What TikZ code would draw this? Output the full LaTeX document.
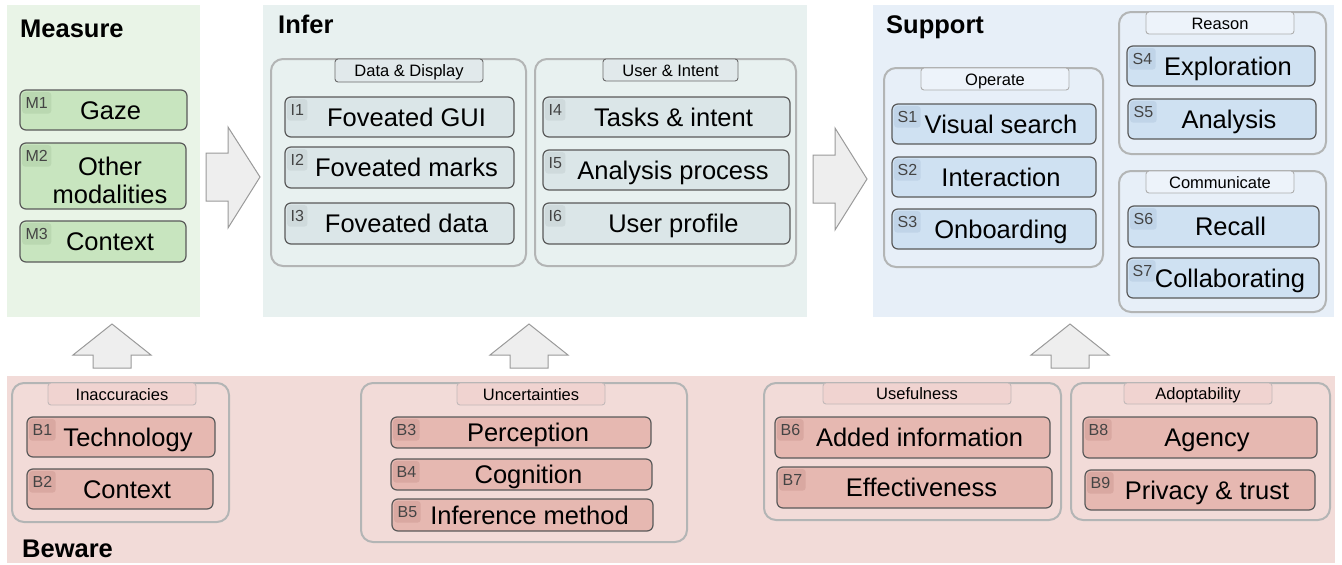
\documentclass[tikz,border=0pt]{standalone}
\usepackage{fontspec}
\setmainfont{Liberation Sans}
\definecolor{gbg}{HTML}{E9F4E7}
\definecolor{ibg}{HTML}{E8F1F0}
\definecolor{sbg}{HTML}{E7EFF8}
\definecolor{bbg}{HTML}{F2DBD8}
\definecolor{gitem}{HTML}{C8E5BF}
\definecolor{iitem}{HTML}{DBE6E8}
\definecolor{sitem}{HTML}{CFE1F2}
\definecolor{bitem}{HTML}{E6B8B1}
\definecolor{gbadge}{HTML}{BAD8B1}
\definecolor{ibadge}{HTML}{CFDADC}
\definecolor{sbadge}{HTML}{C0D4E8}
\definecolor{bbadge}{HTML}{D9A8A1}
\definecolor{itemline}{HTML}{5A5A5A}
\definecolor{grpline}{HTML}{B3B5B5}
\definecolor{arrfill}{HTML}{EEEEEE}
\definecolor{arrline}{HTML}{9A9A9A}
\definecolor{badgetext}{HTML}{444444}
\definecolor{itab}{HTML}{E1E9EB}
\definecolor{stab}{HTML}{EDF3FA}
\definecolor{btab}{HTML}{F0D3D0}
\definecolor{itabline}{HTML}{6A6A6A}
\definecolor{stabline}{HTML}{AEAEAE}
\definecolor{btabline}{HTML}{C2B9B9}
\newcommand\fItem{\fontsize{25.5}{29}\selectfont}
\newcommand\fTitle{\fontsize{25.5}{30}\selectfont\bfseries}
\newcommand\fTab{\fontsize{16.5}{20}\selectfont}
\newcommand\fBadge{\fontsize{16}{19}\selectfont}
% #1 style, #2 name, #3 x1, #4 y1, #5 x2, #6 y2, #7 text
\newcommand\Rect[7]{%
  \pgfmathsetmacro\ww{#5-#3}\pgfmathsetmacro\hh{#6-#4}%
  \pgfmathsetmacro\cx{(#3+#5)/2}\pgfmathsetmacro\cy{(#4+#6)/2}%
  \node[#1, minimum width=\ww pt, minimum height=\hh pt] (#2) at (\cx,\cy) {#7};}
% #1 name, #2-#5 box, #6 colour prefix, #7 badge, #8 text
\newcommand\Item[8]{%
  \Rect{itm,fill=#6item}{#1}{#2}{#3}{#4}{#5}{}%
  \node[badge,fill=#6badge] (#1b) at ([shift={(2.5pt,-2.5pt)}]#1.north west) {#7};
  \node[itxt] (#1t) at ([xshift=7pt]#1.center) {#8};}
\begin{document}
\begin{tikzpicture}[x=1pt,y=-1pt,
  panel/.style={draw=none, inner sep=0, outer sep=0},
  grp/.style={draw=grpline, line width=2pt, rounded corners=12pt, inner sep=0},
  tabbox/.style={rounded corners=3pt, line width=0.9pt, inner sep=0, font=\fTab, text height=12pt, text depth=0pt},
  itm/.style={draw=itemline, line width=1.2pt, rounded corners=6pt, inner sep=0},
  badge/.style={rounded corners=3pt, inner xsep=3.5pt, inner ysep=0pt, minimum height=21.5pt, text=badgetext, font=\fBadge, anchor=north west, text height=11.3pt, text depth=0pt},
  itxt/.style={font=\fItem, inner sep=0, text height=18.3pt, text depth=0pt},
  title/.style={font=\fTitle, anchor=base west, inner sep=0},
  blockarrow/.style={fill=arrfill, draw=arrline, line width=1pt, line join=miter}]
\useasboundingbox (0,0) rectangle (1342,565);
% panels
\Rect{panel,fill=gbg}{measure}{7}{5}{200}{317}{}
\Rect{panel,fill=ibg}{infer}{263}{5}{807}{317}{}
\Rect{panel,fill=sbg}{support}{873}{5}{1334}{317}{}
\Rect{panel,fill=bbg}{beware}{7}{376}{1335}{563}{}
% titles
\node[title] (tmeasure) at (20,37) {Measure};
\node[title] (tinfer) at (278,33) {Infer};
\node[title] (tsupport) at (886,33) {Support};
\node[title] (tbeware) at (22,557) {Beware};
% block arrows
\draw[blockarrow] (206,153) -- (228,153) -- (228,127) -- (260,177) -- (228,228) -- (228,201) -- (206,201) -- cycle;
\draw[blockarrow] (813,155) -- (835,155) -- (835,128) -- (867,179) -- (835,230) -- (835,203) -- (813,203) -- cycle;
\draw[blockarrow] (93,368) -- (93,355) -- (73,355) -- (112,324) -- (151,355) -- (131,355) -- (131,368) -- cycle;
\draw[blockarrow] (510,368) -- (510,355) -- (490,355) -- (529,324) -- (568,355) -- (548,355) -- (548,368) -- cycle;
\draw[blockarrow] (1051,368) -- (1051,355) -- (1031,355) -- (1070,324) -- (1109,355) -- (1089,355) -- (1089,368) -- cycle;
% groups
\Rect{grp}{gdata}{271}{59}{526}{266}{}
\Rect{grp}{guser}{535}{59}{796}{266}{}
\Rect{grp}{goper}{884}{68}{1103}{267}{}
\Rect{grp}{greason}{1119}{12}{1326}{154}{}
\Rect{grp}{gcomm}{1119}{171}{1326}{312}{}
\Rect{grp}{ginacc}{12}{383}{229}{522}{}
\Rect{grp}{guncert}{361}{383}{687}{542}{}
\Rect{grp}{guseful}{764}{383}{1061}{520}{}
\Rect{grp}{gadopt}{1071}{383}{1330}{520}{}
% tabs
\Rect{tabbox,fill=itab,draw=itabline}{tdata}{335}{59}{483}{82}{Data \& Display}
\Rect{tabbox,fill=itab,draw=itabline}{tuser}{603}{59}{738}{81}{User \& Intent}
\Rect{tabbox,fill=stab,draw=stabline}{toper}{921}{68}{1069}{90}{Operate}
\Rect{tabbox,fill=stab,draw=stabline}{treason}{1146}{12}{1294}{34}{Reason}
\Rect{tabbox,fill=stab,draw=stabline}{tcomm}{1146}{171}{1294}{193}{Communicate}
\Rect{tabbox,fill=btab,draw=btabline}{tinacc}{48}{383}{196}{405}{Inaccuracies}
\Rect{tabbox,fill=btab,draw=btabline}{tuncert}{457}{383}{605}{405}{Uncertainties}
\Rect{tabbox,fill=btab,draw=btabline}{tuseful}{823}{383}{1011}{404}{Usefulness}
\Rect{tabbox,fill=btab,draw=btabline}{tadopt}{1124}{383}{1272}{404}{Adoptability}
% measure items
\Item{m1}{20}{90}{187}{130}{g}{M1}{Gaze}
\Item{m2}{20}{143}{186}{209}{g}{M2}{}
\node[font=\fItem, inner sep=0, align=center] (m2t) at (110,180) {Other\\[-1pt]modalities};
\Item{m3}{20}{221}{186}{262}{g}{M3}{Context}
% infer items
\Item{i1}{285}{97}{514}{137}{i}{I1}{Foveated GUI}
\Item{i2}{285}{147}{514}{188}{i}{I2}{Foveated marks}
\Item{i3}{285}{203}{514}{244}{i}{I3}{Foveated data}
\Item{i4}{543}{97}{790}{137}{i}{I4}{Tasks \& intent}
\Item{i5}{543}{150}{789}{190}{i}{I5}{Analysis process}
\Item{i6}{543}{203}{790}{244}{i}{I6}{User profile}
% support items
\Item{s1}{892}{104}{1096}{144}{s}{S1}{Visual search}
\Item{s2}{892}{157}{1096}{197}{s}{S2}{Interaction}
\Item{s3}{892}{209}{1096}{249}{s}{S3}{Onboarding}
\Item{s4}{1127}{46}{1315}{86}{s}{S4}{Exploration}
\Item{s5}{1128}{99}{1316}{139}{s}{S5}{Analysis}
\Item{s6}{1128}{206}{1319}{247}{s}{S6}{Recall}
\Item{s7}{1127}{258}{1319}{298}{s}{S7}{Collaborating}
% beware items
\Item{b1}{27}{417}{215}{457}{b}{B1}{Technology}
\Item{b2}{27}{469}{213}{509}{b}{B2}{Context}
\Item{b3}{391}{417}{651}{448}{b}{B3}{Perception}
\Item{b4}{391}{459}{652}{490}{b}{B4}{Cognition}
\Item{b5}{392}{499}{653}{531}{b}{B5}{Inference method}
\Item{b6}{775}{417}{1050}{458}{b}{B6}{Added information}
\Item{b7}{777}{467}{1052}{508}{b}{B7}{Effectiveness}
\Item{b8}{1083}{417}{1317}{458}{b}{B8}{Agency}
\Item{b9}{1085}{470}{1315}{510}{b}{B9}{Privacy \& trust}
\end{tikzpicture}
\end{document}
